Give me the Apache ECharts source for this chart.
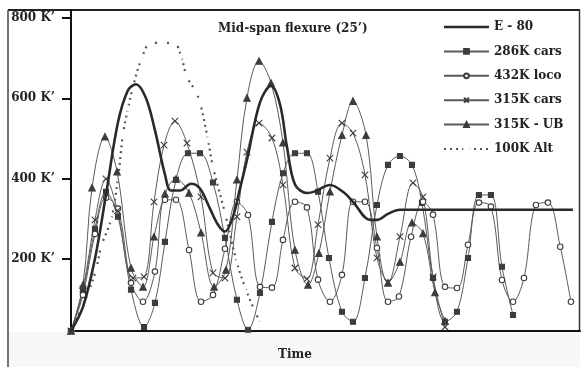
<!DOCTYPE html>
<html>
<head>
<meta charset="utf-8">
<script src="https://cdn.jsdelivr.net/npm/echarts@6/dist/echarts.min.js"></script>
<style>
html,body{margin:0;padding:0;background:#fff;}
#chart{width:581px;height:367px;}
</style>
</head>
<body>
<div id="chart"></div>
<script>
// ---- data (time units arbitrary, load in K) ----
const seriesNames = ["E - 80", "286K cars", "432K loco", "315K cars", "315K - UB", "100K Alt"];
const yTickValues = [200, 400, 600, 800];

const e80 = [[0,20],[1.03,80],[2.06,200],[3.01,360],[4.04,540],[4.9,620],[5.59,635],[6.45,600],[7.22,520],[8.08,410],[8.6,370],[9.37,370],[10.32,387],[11.09,375],[11.95,325],[12.64,285],[13.24,268],[13.93,305],[14.53,375],[15.13,446],[16.25,590],[17.2,631],[17.97,585],[18.57,479],[19.26,385],[20.29,364],[20.98,368],[22.27,384],[23.47,365],[24.25,342],[25.71,297],[26.31,297],[27.26,312],[28.29,322],[35,322],[43.16,322]];

const cars286 = [[0,20],[1.03,120],[2.06,275],[3.01,367],[4.04,305],[5.16,123],[6.28,30],[7.22,90],[8.08,242],[9.03,397],[10.06,463],[11.09,463],[12.21,390],[13.24,252],[14.27,98],[15.22,23],[16.25,115],[17.28,292],[18.23,413],[19.26,463],[20.29,463],[21.24,367],[22.18,202],[23.3,68],[24.25,43],[25.28,152],[26.31,334],[27.26,434],[28.29,456],[29.32,434],[30.18,339],[31.13,152],[32.16,43],[33.19,68],[34.14,202],[35.08,359],[36.11,359],[37.06,180],[38.01,60]];

const loco432 = [[0,20],[1.03,110],[2.06,262],[3.01,352],[4.04,325],[5.16,140],[6.19,93],[7.22,168],[8.08,347],[9.03,347],[10.15,222],[11.18,93],[12.21,110],[13.24,225],[14.27,342],[15.22,309],[16.25,130],[17.28,128],[18.23,247],[19.26,342],[20.29,328],[21.24,148],[22.27,93],[23.3,160],[24.25,342],[25.28,342],[26.31,227],[27.26,93],[28.2,106],[29.24,255],[30.27,342],[31.13,310],[32.16,130],[33.19,127],[34.14,235],[35.08,340],[36.11,330],[37.06,147],[38.01,93],[38.95,152],[39.98,334],[41.01,340],[42.07,230],[42.99,93]];

const cars315 = [[0,20],[1.03,125],[2.06,297],[3.01,399],[4.0,320],[5.33,152],[6.28,155],[7.14,342],[8.0,483],[8.94,543],[9.97,488],[11.18,354],[12.21,165],[13.24,152],[14.27,305],[15.13,466],[16.17,538],[17.28,501],[18.23,384],[19.26,177],[20.29,150],[21.24,285],[22.27,451],[23.3,538],[24.25,513],[25.28,409],[26.31,202],[27.26,142],[28.29,255],[29.41,389],[30.27,354],[31.13,155],[32.16,30]];

const ub315 = [[0,20],[1.03,135],[1.81,377],[2.92,504],[3.96,417],[5.16,177],[6.19,130],[7.14,255],[8.08,362],[9.03,399],[10.15,364],[11.18,265],[12.3,130],[13.33,172],[14.27,397],[15.13,601],[16.17,693],[17.2,638],[18.23,489],[19.26,222],[20.38,135],[21.32,214],[22.27,367],[23.3,508],[24.25,593],[25.37,508],[26.31,255],[27.26,140],[28.29,192],[29.32,290],[30.27,263],[31.3,116],[32.16,45]];

const alt100 = [[0,20],[0.86,73],[1.46,115],[2.15,172],[2.58,230],[3.44,297],[4.04,400],[4.47,510],[4.9,575],[5.33,628],[6.02,695],[6.88,738],[7.91,738],[8.86,738],[9.46,705],[9.97,653],[10.66,620],[11.09,590],[11.78,496],[12.21,429],[13.24,314],[14.27,190],[14.96,130],[15.82,68],[16.34,38]];

const serif = '"DejaVu Serif", "Liberation Serif", serif';
const lineGray = '#5a5a5a';
const markGray = '#3c3c3c';

function markerSeries(name, data, symbol, size, filled) {
  return {
    name: name, type: 'line', data: data, smooth: 0.35,
    symbol: symbol, symbolSize: size, showSymbol: true,
    lineStyle: {color: lineGray, width: 1},
    itemStyle: {color: filled ? markGray : '#fff', borderColor: markGray, borderWidth: 1.1},
    emphasis: {disabled: true}, z: 3
  };
}

const legendData = seriesNames.map(function (n, i) {
  if (i === 0) return {name: n, icon: 'path://M0,0H45V2.6H0Z', itemStyle: {color: '#2a2a2a'}};
  return {name: n};
});

const chart = echarts.init(document.getElementById('chart'), null, {renderer: 'canvas'});
chart.setOption({
  animation: false,
  backgroundColor: '#fff',
  title: [{
    text: 'Mid-span flexure (25\u2019)', left: 213, top: 18,
    textStyle: {fontFamily: serif, fontWeight: 'bold', fontSize: 12, color: '#222'}
  }, {
    text: 'Time', left: 273, top: 344,
    textStyle: {fontFamily: serif, fontWeight: 'bold', fontSize: 12, color: '#222'}
  }],
  legend: {
    orient: 'vertical', left: 443, top: 20, padding: 0,
    itemWidth: 45, itemHeight: 6, itemGap: 10.4,
    symbolKeepAspect: true,
    data: legendData,
    textStyle: {fontFamily: serif, fontWeight: 'bold', fontSize: 12, color: '#222', lineHeight: 14, height: 14},
    selectedMode: false
  },
  grid: {left: 71, right: 1, top: 10, bottom: 36, containLabel: false},
  xAxis: {
    type: 'value', min: 0, max: 43.77,
    axisLine: {show: true, lineStyle: {color: '#111', width: 2}},
    axisTick: {show: false}, axisLabel: {show: false}, splitLine: {show: false}
  },
  yAxis: {
    type: 'value', min: 20, max: 820,
    axisLine: {show: true, lineStyle: {color: '#111', width: 2}},
    axisTick: {show: true, inside: false, length: 9, customValues: yTickValues, lineStyle: {color: '#111', width: 2}},
    axisLabel: {
      customValues: yTickValues, margin: 16,
      formatter: function (v) { return v + ' K\u2019'; },
      fontFamily: serif, fontWeight: 'bold', fontSize: 12, color: '#222'
    },
    splitLine: {show: false}
  },
  graphic: [
    {type: 'rect', shape: {x: 9, y: 332, width: 571, height: 35}, style: {fill: '#f7f7f7'}, z: -10, silent: true},
    {type: 'line', shape: {x1: 8, y1: 10, x2: 580, y2: 10}, style: {stroke: '#222', lineWidth: 2}, silent: true},
    {type: 'line', shape: {x1: 8, y1: 10, x2: 8, y2: 367}, style: {stroke: '#444', lineWidth: 1.5}, silent: true},
    {type: 'line', shape: {x1: 579.5, y1: 10, x2: 579.5, y2: 331}, style: {stroke: '#333', lineWidth: 1.5}, silent: true}
  ],
  series: [
    {
      name: seriesNames[0], type: 'line', data: e80, smooth: 0.35, showSymbol: false, symbol: 'none',
      lineStyle: {color: '#2a2a2a', width: 2.6}, itemStyle: {color: '#2a2a2a'}, emphasis: {disabled: true}, z: 4
    },
    markerSeries(seriesNames[1], cars286, 'rect', 5, true),
    markerSeries(seriesNames[2], loco432, 'circle', 5.5, false),
    markerSeries(seriesNames[3], cars315, 'path://M0,0L10,10M10,0L0,10', 6.5, true),
    markerSeries(seriesNames[4], ub315, 'triangle', 6.5, true),
    {
      name: seriesNames[5], type: 'line', data: alt100, smooth: 0.35,
      symbol: 'emptyDiamond', symbolSize: 4.5, showSymbol: true,
      lineStyle: {color: '#555', width: 2.2, type: [2, 4]},
      itemStyle: {color: '#fff', borderColor: '#444', borderWidth: 1},
      emphasis: {disabled: true}, z: 2
    }
  ]
});
</script>
</body>
</html>
